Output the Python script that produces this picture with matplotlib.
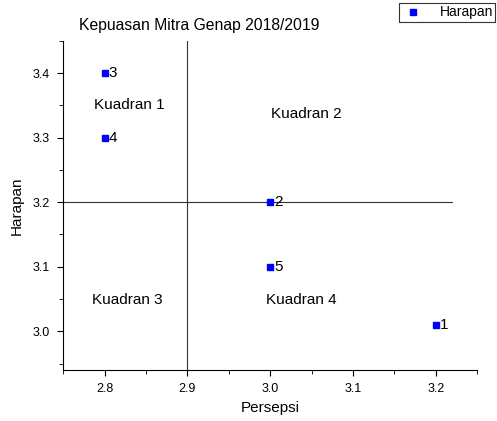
import matplotlib
matplotlib.use("Agg")
import matplotlib.pyplot as plt
from matplotlib.ticker import MultipleLocator, FormatStrFormatter

plt.rcParams['font.family'] = ['Liberation Sans', 'DejaVu Sans']

# data
persepsi = [3.2, 3.0, 2.8, 2.8, 3.0]
harapan = [3.01, 3.2, 3.4, 3.3, 3.1]
point_labels = ['1', '2', '3', '4', '5']
mean_x = 2.9
mean_y = 3.2
quadrants = ['Kuadran 1', 'Kuadran 2', 'Kuadran 3', 'Kuadran 4']
quad_x = [2.83, 3.044, 2.828, 3.038]
quad_y = [3.351, 3.337, 3.049, 3.049]

fig = plt.figure(figsize=(4.97, 4.21), dpi=100)
ax = fig.add_axes([0.127, 0.121, 0.833, 0.782])

ax.axvline(mean_x, color='#333333', lw=0.8)
ax.plot([2.75, 3.22], [mean_y, mean_y], color='#333333', lw=0.8)

ax.plot(persepsi, harapan, 's', color='blue', ms=5, ls='none', label='Harapan')
for x, y, t in zip(persepsi, harapan, point_labels):
    ax.text(x + 0.005, y, t, fontsize=11, va='center', ha='left')

for t, x, y in zip(quadrants, quad_x, quad_y):
    ax.text(x, y, t, fontsize=11, ha='center', va='center')

ax.set_xlim(2.75, 3.25)
ax.set_ylim(2.94, 3.45)
ax.xaxis.set_major_locator(MultipleLocator(0.1))
ax.xaxis.set_minor_locator(MultipleLocator(0.05))
ax.yaxis.set_major_locator(MultipleLocator(0.1))
ax.yaxis.set_minor_locator(MultipleLocator(0.05))
ax.tick_params(which='major', direction='out', length=4.5, labelsize=9, pad=5)
ax.tick_params(which='minor', direction='out', length=3)
ax.xaxis.set_major_formatter(FormatStrFormatter('%.1f'))
ax.yaxis.set_major_formatter(FormatStrFormatter('%.1f'))
ax.spines['top'].set_visible(False)
ax.spines['right'].set_visible(False)

ax.set_xlabel('Persepsi', fontsize=11, va='center')
ax.set_ylabel('Harapan', fontsize=11, va='center')
ax.xaxis.set_label_coords(0.5, -0.115)
ax.yaxis.set_label_coords(-0.111, 0.5)
fig.text(0.40, 0.94, 'Kepuasan Mitra Genap 2018/2019', fontsize=11.3, ha='center', va='center')

leg = fig.legend(loc='upper right', bbox_to_anchor=(0.996, 0.992), fontsize=10,
                 frameon=True, fancybox=False, edgecolor='black', handlelength=1.8,
                 handletextpad=1.0, borderpad=0.15, borderaxespad=0, markerscale=0.9)
leg.get_frame().set_linewidth(0.8)

fig.savefig('out.png', dpi=100)
